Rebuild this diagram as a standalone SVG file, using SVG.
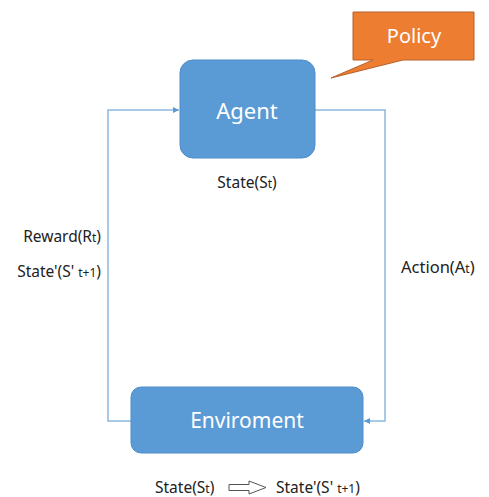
<svg xmlns="http://www.w3.org/2000/svg" width="489" height="497" viewBox="0 0 489 497">
<style>
.box{fill:#5B9BD5;stroke:#4F8CC9;stroke-width:1}
.lbl{font-family:"Noto Sans","Liberation Sans",sans-serif;font-size:15.5px;fill:#222}
.sub{font-size:12px}
.big{font-family:"Noto Sans","Liberation Sans",sans-serif;font-size:22px;fill:#fff;text-anchor:middle}
.conn{fill:none;stroke:#8DB8E2;stroke-width:1.5}
</style>
<defs>
<marker id="ah" viewBox="0 0 10 10" refX="10" refY="5" markerWidth="6" markerHeight="6" orient="auto" markerUnits="userSpaceOnUse">
<path d="M0,0 L10,5 L0,10 z" fill="#5B9BD5"/>
</marker>
</defs>
<g id="connectors">
<path class="conn" d="M315,110 H385 V421 H364" marker-end="url(#ah)"/>
<path class="conn" d="M131,421 H108 V110 H179" marker-end="url(#ah)"/>
</g>
<g id="policy">
<path d="M353,12 H474 V60 H403 L331,78 L373,60 H353 Z" fill="#ED7D31" stroke="#B7612A" stroke-width="1"/>
<text class="big" x="414" y="43" style="font-size:20px">Policy</text>
</g>
<g id="agent">
<rect class="box" x="180" y="60" width="135" height="98" rx="13"/>
<text class="big" x="247" y="119">Agent</text>
</g>
<g id="environment">
<rect class="box" x="131" y="387" width="232" height="66" rx="10"/>
<text class="big" x="247" y="428" style="font-size:21px">Enviroment</text>
</g>
<g id="labels">
<text class="lbl" x="247" y="188" text-anchor="middle">State(S<tspan class="sub">t</tspan>)</text>
<text class="lbl" x="101" y="242" text-anchor="end">Reward(R<tspan class="sub">t</tspan>)</text>
<text class="lbl" x="101" y="277" text-anchor="end">State'(S' <tspan class="sub">t+1</tspan>)</text>
<text class="lbl" x="401" y="273" style="font-size:16.5px">Action(A<tspan class="sub">t</tspan>)</text>
<text class="lbl" x="155" y="493">State(S<tspan class="sub">t</tspan>)</text>
<path d="M229,484.5 H249 V481 L266,487.5 L249,494 V490.5 H229 Z" fill="#fff" stroke="#555" stroke-width="1"/>
<text class="lbl" x="276" y="493">State'(S' <tspan class="sub">t+1</tspan>)</text>
</g>
</svg>
